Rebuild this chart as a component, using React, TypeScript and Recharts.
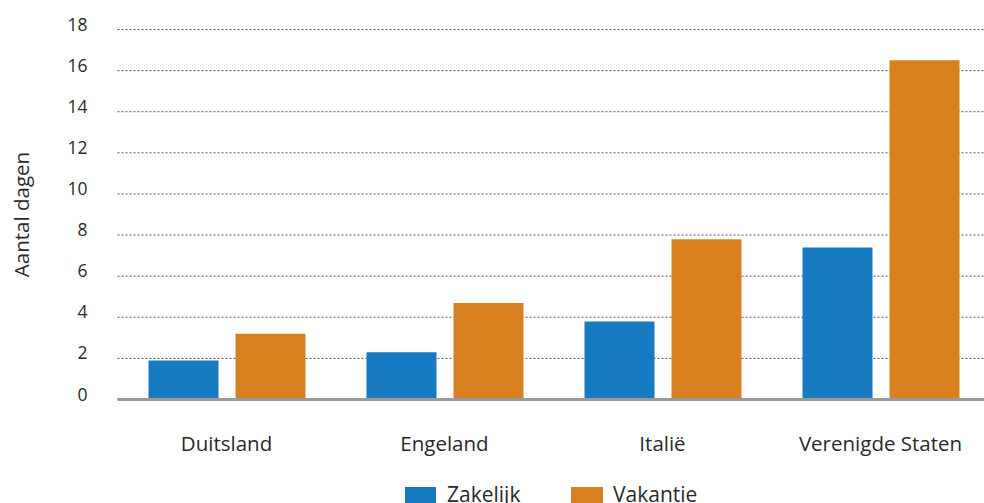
import React from 'react';
import { BarChart, Bar, XAxis, YAxis, CartesianGrid, Legend } from 'recharts';

const countries = ['Duitsland', 'Engeland', 'Italië', 'Verenigde Staten'];
const zakelijk = [1.9, 2.3, 3.8, 7.4];
const vakantie = [3.2, 4.7, 7.8, 16.5];
const yTicks = [0, 2, 4, 6, 8, 10, 12, 14, 16, 18];

const BLUE = '#177AC0';
const ORANGE = '#D88020';
const TEXT = '#2a2a2a';
const FONT = '"Open Sans", sans-serif';

const data = countries.map((name, i) => ({
  name,
  zakelijk: zakelijk[i],
  vakantie: vakantie[i],
}));

const YTick = (props: any) => {
  const { x, y, payload } = props;
  return (
    <text x={x} y={y - 6} textAnchor="end" dominantBaseline="central" fontSize={17.5} fill={TEXT} fontFamily={FONT}>
      {payload.value}
    </text>
  );
};

const XTick = (props: any) => {
  const { x, y, payload } = props;
  return (
    <text x={x} y={y + 41} textAnchor="middle" dominantBaseline="central" fontSize={20.5} fill={TEXT} fontFamily={FONT}>
      {payload.value}
    </text>
  );
};

// height 0 so the legend does not take room from the plot
const renderLegend = () => (
  <div style={{ position: 'relative', height: 0, fontFamily: FONT, fontSize: 21, color: TEXT }}>
    <div style={{ position: 'absolute', left: 405, top: 3, width: 31, height: 20, background: BLUE }} />
    <div style={{ position: 'absolute', left: 447, top: -4, lineHeight: '28px', whiteSpace: 'nowrap' }}>Zakelijk</div>
    <div style={{ position: 'absolute', left: 571, top: 3, width: 32, height: 20, background: ORANGE }} />
    <div style={{ position: 'absolute', left: 613, top: -4, lineHeight: '28px', whiteSpace: 'nowrap' }}>Vakantie</div>
  </div>
);

export default function App() {
  return (
    <div style={{ position: 'absolute', left: 0, top: 0, width: 984, height: 503, overflow: 'hidden', background: '#fff' }}>
      <BarChart
        width={990}
        height={503}
        data={data}
        margin={{ top: 29.5, right: 0.5, left: 0, bottom: 43.5 }}
        barSize={70}
        barGap={17}
      >
        <CartesianGrid vertical={false} stroke="#555" strokeDasharray="2 2" />
        <YAxis
          width={117.5}
          domain={[0, 18]}
          ticks={yTicks}
          interval={0}
          axisLine={false}
          tickLine={false}
          tickSize={6}
          tickMargin={24}
          tick={<YTick />}
          label={{
            value: 'Aantal dagen',
            angle: -90,
            position: 'insideLeft',
            offset: 22,
            style: { fontSize: 20.5, fill: TEXT, fontFamily: FONT, textAnchor: 'middle' },
          }}
        />
        <XAxis
          dataKey="name"
          height={60}
          axisLine={{ stroke: '#9a9a9a', strokeWidth: 3 }}
          tickLine={false}
          tickSize={0}
          tick={<XTick />}
          interval={0}
        />
        <Legend content={renderLegend} wrapperStyle={{ top: 484, left: 0, width: 990 }} />
        <Bar dataKey="zakelijk" name="Zakelijk" fill={BLUE} isAnimationActive={false} />
        <Bar dataKey="vakantie" name="Vakantie" fill={ORANGE} isAnimationActive={false} />
      </BarChart>
    </div>
  );
}
